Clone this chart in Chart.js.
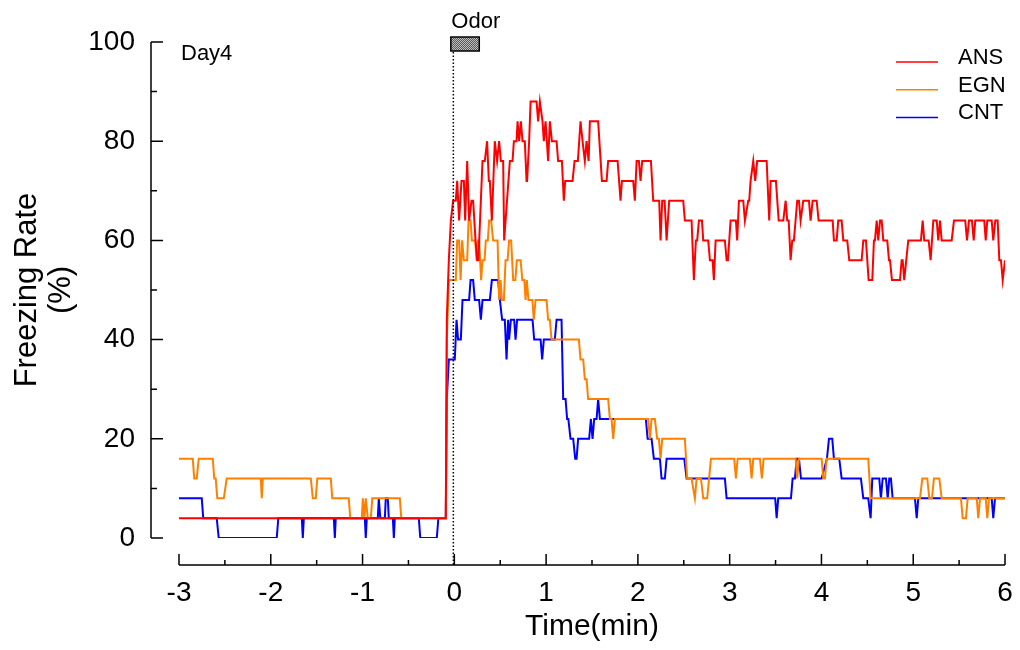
<!DOCTYPE html>
<html>
<head>
<meta charset="utf-8">
<script src="https://cdn.jsdelivr.net/npm/chart.js@4.4.1/dist/chart.umd.min.js"></script>
<style>
html, body { margin: 0; padding: 0; background: #fff; }
#wrap { width: 1020px; height: 650px; }
</style>
</head>
<body>
<div id="wrap"><canvas id="chart-freezing-day4" width="1020" height="650"></canvas></div>
<script>
// group names, colours and the odor window (min)
var groupNames = ['ANS', 'EGN', 'CNT'];
var groupColors = ['rgb(255,0,0)', 'rgb(255,128,0)', 'rgb(0,0,255)'];
var odorWindow = [0, 0.25];
var sessionLabel = 'Day4';

// [time (min), freezing rate (%)]
var ansTrace = [[-3.0,4],[-0.093,4],[-0.082,44],[-0.060,56],[-0.038,64],[-0.013,68],[0.016,68],[0.031,72],[0.052,64],[0.078,72],[0.104,72],[0.118,64],[0.140,76],[0.161,64],[0.187,68],[0.205,68],[0.231,60],[0.249,56],[0.262,56],[0.307,76],[0.332,76],[0.357,80],[0.376,72],[0.387,72],[0.409,64],[0.441,80],[0.466,76],[0.488,80],[0.507,76],[0.532,76],[0.543,60],[0.605,76],[0.634,76],[0.649,80],[0.678,80],[0.689,84],[0.706,80],[0.725,84],[0.743,80],[0.768,80],[0.787,72],[0.793,72],[0.815,80],[0.831,88],[0.896,88],[0.913,84],[0.932,88],[0.961,84],[0.975,80],[0.994,84],[1.022,76],[1.041,84],[1.063,80],[1.114,80],[1.131,76],[1.172,76],[1.193,68],[1.208,72],[1.288,72],[1.310,76],[1.346,76],[1.375,84],[1.397,80],[1.422,76],[1.441,80],[1.463,76],[1.477,84],[1.567,84],[1.608,72],[1.659,72],[1.676,76],[1.779,76],[1.811,68],[1.826,72],[1.949,72],[1.967,68],[1.986,76],[2.011,76],[2.029,72],[2.047,76],[2.142,76],[2.167,68],[2.232,68],[2.247,60],[2.265,68],[2.291,68],[2.313,60],[2.341,68],[2.494,68],[2.512,64],[2.585,64],[2.610,52],[2.632,60],[2.646,60],[2.665,64],[2.698,64],[2.712,60],[2.766,60],[2.785,56],[2.814,56],[2.828,52],[2.847,60],[2.948,60],[2.967,56],[2.981,56],[3.010,64],[3.068,64],[3.082,60],[3.101,68],[3.148,68],[3.166,64],[3.202,68],[3.213,68],[3.228,72],[3.257,76],[3.278,72],[3.300,76],[3.403,76],[3.431,64],[3.446,72],[3.504,72],[3.534,64],[3.584,64],[3.610,68],[3.627,64],[3.643,64],[3.664,56],[3.682,60],[3.700,60],[3.736,68],[3.755,68],[3.773,64],[3.802,68],[3.864,68],[3.882,64],[3.904,68],[3.948,68],[3.969,64],[4.122,64],[4.136,60],[4.166,60],[4.183,64],[4.220,64],[4.238,60],[4.281,60],[4.303,56],[4.438,56],[4.456,60],[4.485,60],[4.514,52],[4.554,52],[4.572,60],[4.583,60],[4.602,64],[4.619,60],[4.638,64],[4.656,64],[4.674,60],[4.717,60],[4.736,56],[4.747,56],[4.768,52],[4.856,52],[4.874,56],[4.885,56],[4.902,52],[4.946,60],[5.084,60],[5.103,64],[5.120,60],[5.168,60],[5.190,56],[5.219,64],[5.256,64],[5.273,60],[5.292,64],[5.310,60],[5.419,60],[5.444,64],[5.567,64],[5.586,60],[5.608,64],[5.640,64],[5.659,60],[5.676,64],[5.774,64],[5.790,60],[5.807,64],[5.855,64],[5.872,60],[5.894,64],[5.920,64],[5.938,56],[5.956,56],[5.975,52],[6.000,56]];

var egnTrace = [[-3.0,16],[-2.850,16],[-2.834,12],[-2.807,12],[-2.785,16],[-2.632,16],[-2.616,12],[-2.600,12],[-2.583,8],[-2.512,8],[-2.480,12],[-2.109,12],[-2.098,8],[-2.087,12],[-1.564,12],[-1.542,8],[-1.510,8],[-1.493,12],[-1.346,12],[-1.330,8],[-1.150,8],[-1.134,4],[-1.008,4],[-0.997,8],[-0.981,4],[-0.965,8],[-0.943,4],[-0.910,4],[-0.894,8],[-0.594,8],[-0.578,4],[-0.093,4],[-0.082,40],[-0.060,52],[0.016,52],[0.031,60],[0.052,60],[0.068,52],[0.085,60],[0.104,56],[0.140,56],[0.155,64],[0.177,64],[0.191,60],[0.227,60],[0.242,56],[0.256,60],[0.270,60],[0.292,52],[0.307,56],[0.329,56],[0.343,60],[0.365,60],[0.379,64],[0.401,64],[0.423,60],[0.471,60],[0.488,48],[0.504,52],[0.518,48],[0.540,48],[0.558,56],[0.580,56],[0.597,60],[0.619,60],[0.641,52],[0.665,52],[0.681,56],[0.722,56],[0.741,52],[0.763,52],[0.776,48],[0.790,52],[0.807,48],[0.850,48],[0.866,44],[0.885,48],[1.005,48],[1.022,44],[1.041,44],[1.059,40],[1.357,40],[1.375,36],[1.404,36],[1.422,32],[1.441,32],[1.458,28],[1.676,28],[1.695,24],[1.713,24],[1.731,20],[1.749,24],[2.112,24],[2.131,20],[2.149,24],[2.185,24],[2.210,20],[2.229,20],[2.247,16],[2.265,20],[2.512,20],[2.537,12],[2.585,12],[2.621,8],[2.640,12],[2.687,12],[2.712,8],[2.755,8],[2.796,16],[3.050,16],[3.068,12],[3.087,16],[3.221,16],[3.239,12],[3.257,16],[3.330,16],[3.351,12],[3.370,16],[3.719,16],[3.736,12],[3.755,16],[4.002,16],[4.020,12],[4.038,12],[4.057,16],[4.510,16],[4.536,8],[5.074,8],[5.099,12],[5.153,12],[5.175,8],[5.204,8],[5.226,12],[5.284,12],[5.310,8],[5.520,8],[5.539,4],[5.575,4],[5.593,8],[5.692,8],[5.709,4],[5.728,8],[5.790,8],[5.807,4],[5.826,8],[6.000,8]];

var cntTrace = [[-3.0,8],[-2.752,8],[-2.736,4],[-2.589,4],[-2.567,0],[-1.935,0],[-1.918,4],[-1.662,4],[-1.651,0],[-1.640,4],[-1.313,4],[-1.302,0],[-1.292,4],[-0.975,4],[-0.965,0],[-0.954,4],[-0.834,4],[-0.823,8],[-0.807,4],[-0.757,4],[-0.747,8],[-0.725,8],[-0.714,4],[-0.670,4],[-0.659,0],[-0.649,4],[-0.387,4],[-0.371,0],[-0.191,0],[-0.174,4],[-0.093,4],[-0.082,28],[-0.060,36],[0.005,36],[0.024,44],[0.041,40],[0.071,40],[0.089,48],[0.161,48],[0.177,52],[0.205,52],[0.223,48],[0.270,48],[0.289,44],[0.307,48],[0.387,48],[0.409,52],[0.477,52],[0.496,48],[0.521,44],[0.550,44],[0.569,36],[0.586,44],[0.597,40],[0.616,44],[0.652,44],[0.667,40],[0.684,44],[0.852,44],[0.870,40],[0.940,40],[0.957,36],[0.975,40],[1.095,40],[1.114,44],[1.168,44],[1.186,28],[1.212,28],[1.229,24],[1.242,24],[1.266,20],[1.295,20],[1.317,16],[1.332,16],[1.349,20],[1.469,20],[1.488,24],[1.506,20],[1.524,24],[1.550,24],[1.567,28],[1.586,24],[2.087,24],[2.106,20],[2.149,20],[2.174,16],[2.240,16],[2.258,12],[2.294,12],[2.313,16],[2.505,16],[2.531,12],[2.948,12],[2.967,8],[3.496,8],[3.512,4],[3.529,8],[3.668,8],[3.686,12],[3.711,12],[3.730,16],[3.755,16],[3.777,12],[4.002,12],[4.060,16],[4.082,20],[4.118,20],[4.136,16],[4.194,16],[4.220,12],[4.430,12],[4.456,8],[4.510,8],[4.536,4],[4.554,12],[4.630,12],[4.648,8],[4.667,12],[4.703,12],[4.722,8],[4.739,12],[4.757,12],[4.776,8],[5.019,8],[5.038,4],[5.055,8],[5.855,8],[5.872,4],[5.891,8],[6.000,8]];

var traces = [ansTrace, egnTrace, cntTrace];
var FONT = '"Liberation Sans", Arial, Helvetica, sans-serif';

function toPoints(trace) {
	return trace.map(function(p) { return {x: p[0], y: p[1]}; });
}

// no extra room for overhanging tick labels, the layout padding fixes the plot box
function fixScaleBox(scale, size) {
	if (scale.isHorizontal()) scale.height = size; else scale.width = size;
	scale.paddingTop = 0; scale.paddingBottom = 0;
	scale.paddingLeft = 0; scale.paddingRight = 0;
}

// hatched fill for the odor bar
var hatch = document.createElement('canvas');
hatch.width = 2; hatch.height = 2;
var hctx = hatch.getContext('2d');
hctx.fillStyle = '#5a5a5a'; hctx.fillRect(0, 0, 2, 2);
hctx.fillStyle = '#bdbdbd'; hctx.fillRect(0, 0, 1, 1); hctx.fillRect(1, 1, 1, 1);

// axes sit away from the plot area, ticks point inward; plus odor marker, labels, legend
var decorPlugin = {
	id: 'decor',
	afterDraw: function(chart) {
		var ctx = chart.ctx, xs = chart.scales.x, ys = chart.scales.y, area = chart.chartArea;
		var axisX = area.left - 28, axisY = area.bottom + 27;
		ctx.save();
		ctx.strokeStyle = '#000';
		ctx.lineWidth = 1.5;
		ctx.beginPath();
		ctx.moveTo(axisX, ys.getPixelForValue(ys.min));
		ctx.lineTo(axisX, ys.getPixelForValue(ys.max));
		for (var v = ys.min; v <= ys.max; v += 10) {
			var py = ys.getPixelForValue(v);
			ctx.moveTo(axisX, py);
			ctx.lineTo(axisX + (v % 20 === 0 ? 12 : 6), py);
		}
		ctx.moveTo(xs.getPixelForValue(xs.min), axisY);
		ctx.lineTo(xs.getPixelForValue(xs.max), axisY);
		for (var t = xs.min; t <= xs.max + 1e-9; t += 0.5) {
			var px = xs.getPixelForValue(t);
			ctx.moveTo(px, axisY);
			ctx.lineTo(px, axisY - (Math.abs(t - Math.round(t)) < 1e-6 ? 11 : 5));
		}
		ctx.stroke();

		// odor onset line
		var x0 = xs.getPixelForValue(odorWindow[0]);
		ctx.setLineDash([1.5, 2]);
		ctx.beginPath();
		ctx.moveTo(x0 - 1, area.top + 10);
		ctx.lineTo(x0 - 1, axisY);
		ctx.stroke();
		ctx.setLineDash([]);

		// odor bar
		var x1 = xs.getPixelForValue(odorWindow[1]);
		ctx.fillStyle = ctx.createPattern(hatch, 'repeat');
		ctx.fillRect(x0 - 3.5, area.top - 5, x1 - x0 + 5.5, 14);
		ctx.strokeRect(x0 - 3.5, area.top - 5, x1 - x0 + 5.5, 14);

		ctx.fillStyle = '#000';
		ctx.font = '22px ' + FONT;
		ctx.textBaseline = 'middle';
		ctx.textAlign = 'left';
		ctx.fillText('Odor', x0 - 3, area.top - 20);
		ctx.fillText(sessionLabel, area.left + 2, area.top + 12);

		// legend
		ctx.lineWidth = 1.5;
		for (var i = 0; i < groupNames.length; i++) {
			var ly = area.top + 20 + i * 27.7;
			ctx.strokeStyle = groupColors[i];
			ctx.beginPath();
			ctx.moveTo(area.right - 109, ly);
			ctx.lineTo(area.right - 67, ly);
			ctx.stroke();
			ctx.fillText(groupNames[i], area.right - 47, ly - 4);
		}
		ctx.restore();
	}
};

var ctxEl = document.getElementById('chart-freezing-day4');
var chart = new Chart(ctxEl, {
	type: 'line',
	data: {
		datasets: groupNames.map(function(name, i) {
			return {
				label: name,
				data: toPoints(traces[i]),
				borderColor: groupColors[i],
				backgroundColor: groupColors[i],
				borderWidth: 2,
				pointRadius: 0,
				tension: 0,
				fill: false
			};
		})
	},
	options: {
		responsive: false,
		animation: false,
		events: [],
		layout: { padding: { left: 0, right: 15, top: 42, bottom: 0 } },
		plugins: { legend: { display: false }, tooltip: { enabled: false } },
		scales: {
			x: {
				type: 'linear',
				min: -3,
				max: 6,
				grid: { display: false, drawTicks: false },
				border: { display: false },
				ticks: { stepSize: 1, color: '#000', padding: 38, font: { family: FONT, size: 28 } },
				title: { display: true, text: 'Time(min)', color: '#000', padding: { top: 0, bottom: 5 }, font: { family: FONT, size: 30 } },
				afterFit: function(scale) { fixScaleBox(scale, 112); }
			},
			y: {
				min: 0,
				max: 100,
				grid: { display: false, drawTicks: false },
				border: { display: false },
				ticks: { stepSize: 20, color: '#000', padding: 44, font: { family: FONT, size: 28 } },
				title: { display: true, text: ['Freezing Rate', '(%)'], color: '#000', padding: { top: 10, bottom: 0 }, font: { family: FONT, size: 31, lineHeight: 1.1 } },
				afterFit: function(scale) { fixScaleBox(scale, 179); }
			}
		}
	},
	plugins: [decorPlugin]
});
</script>
</body>
</html>
